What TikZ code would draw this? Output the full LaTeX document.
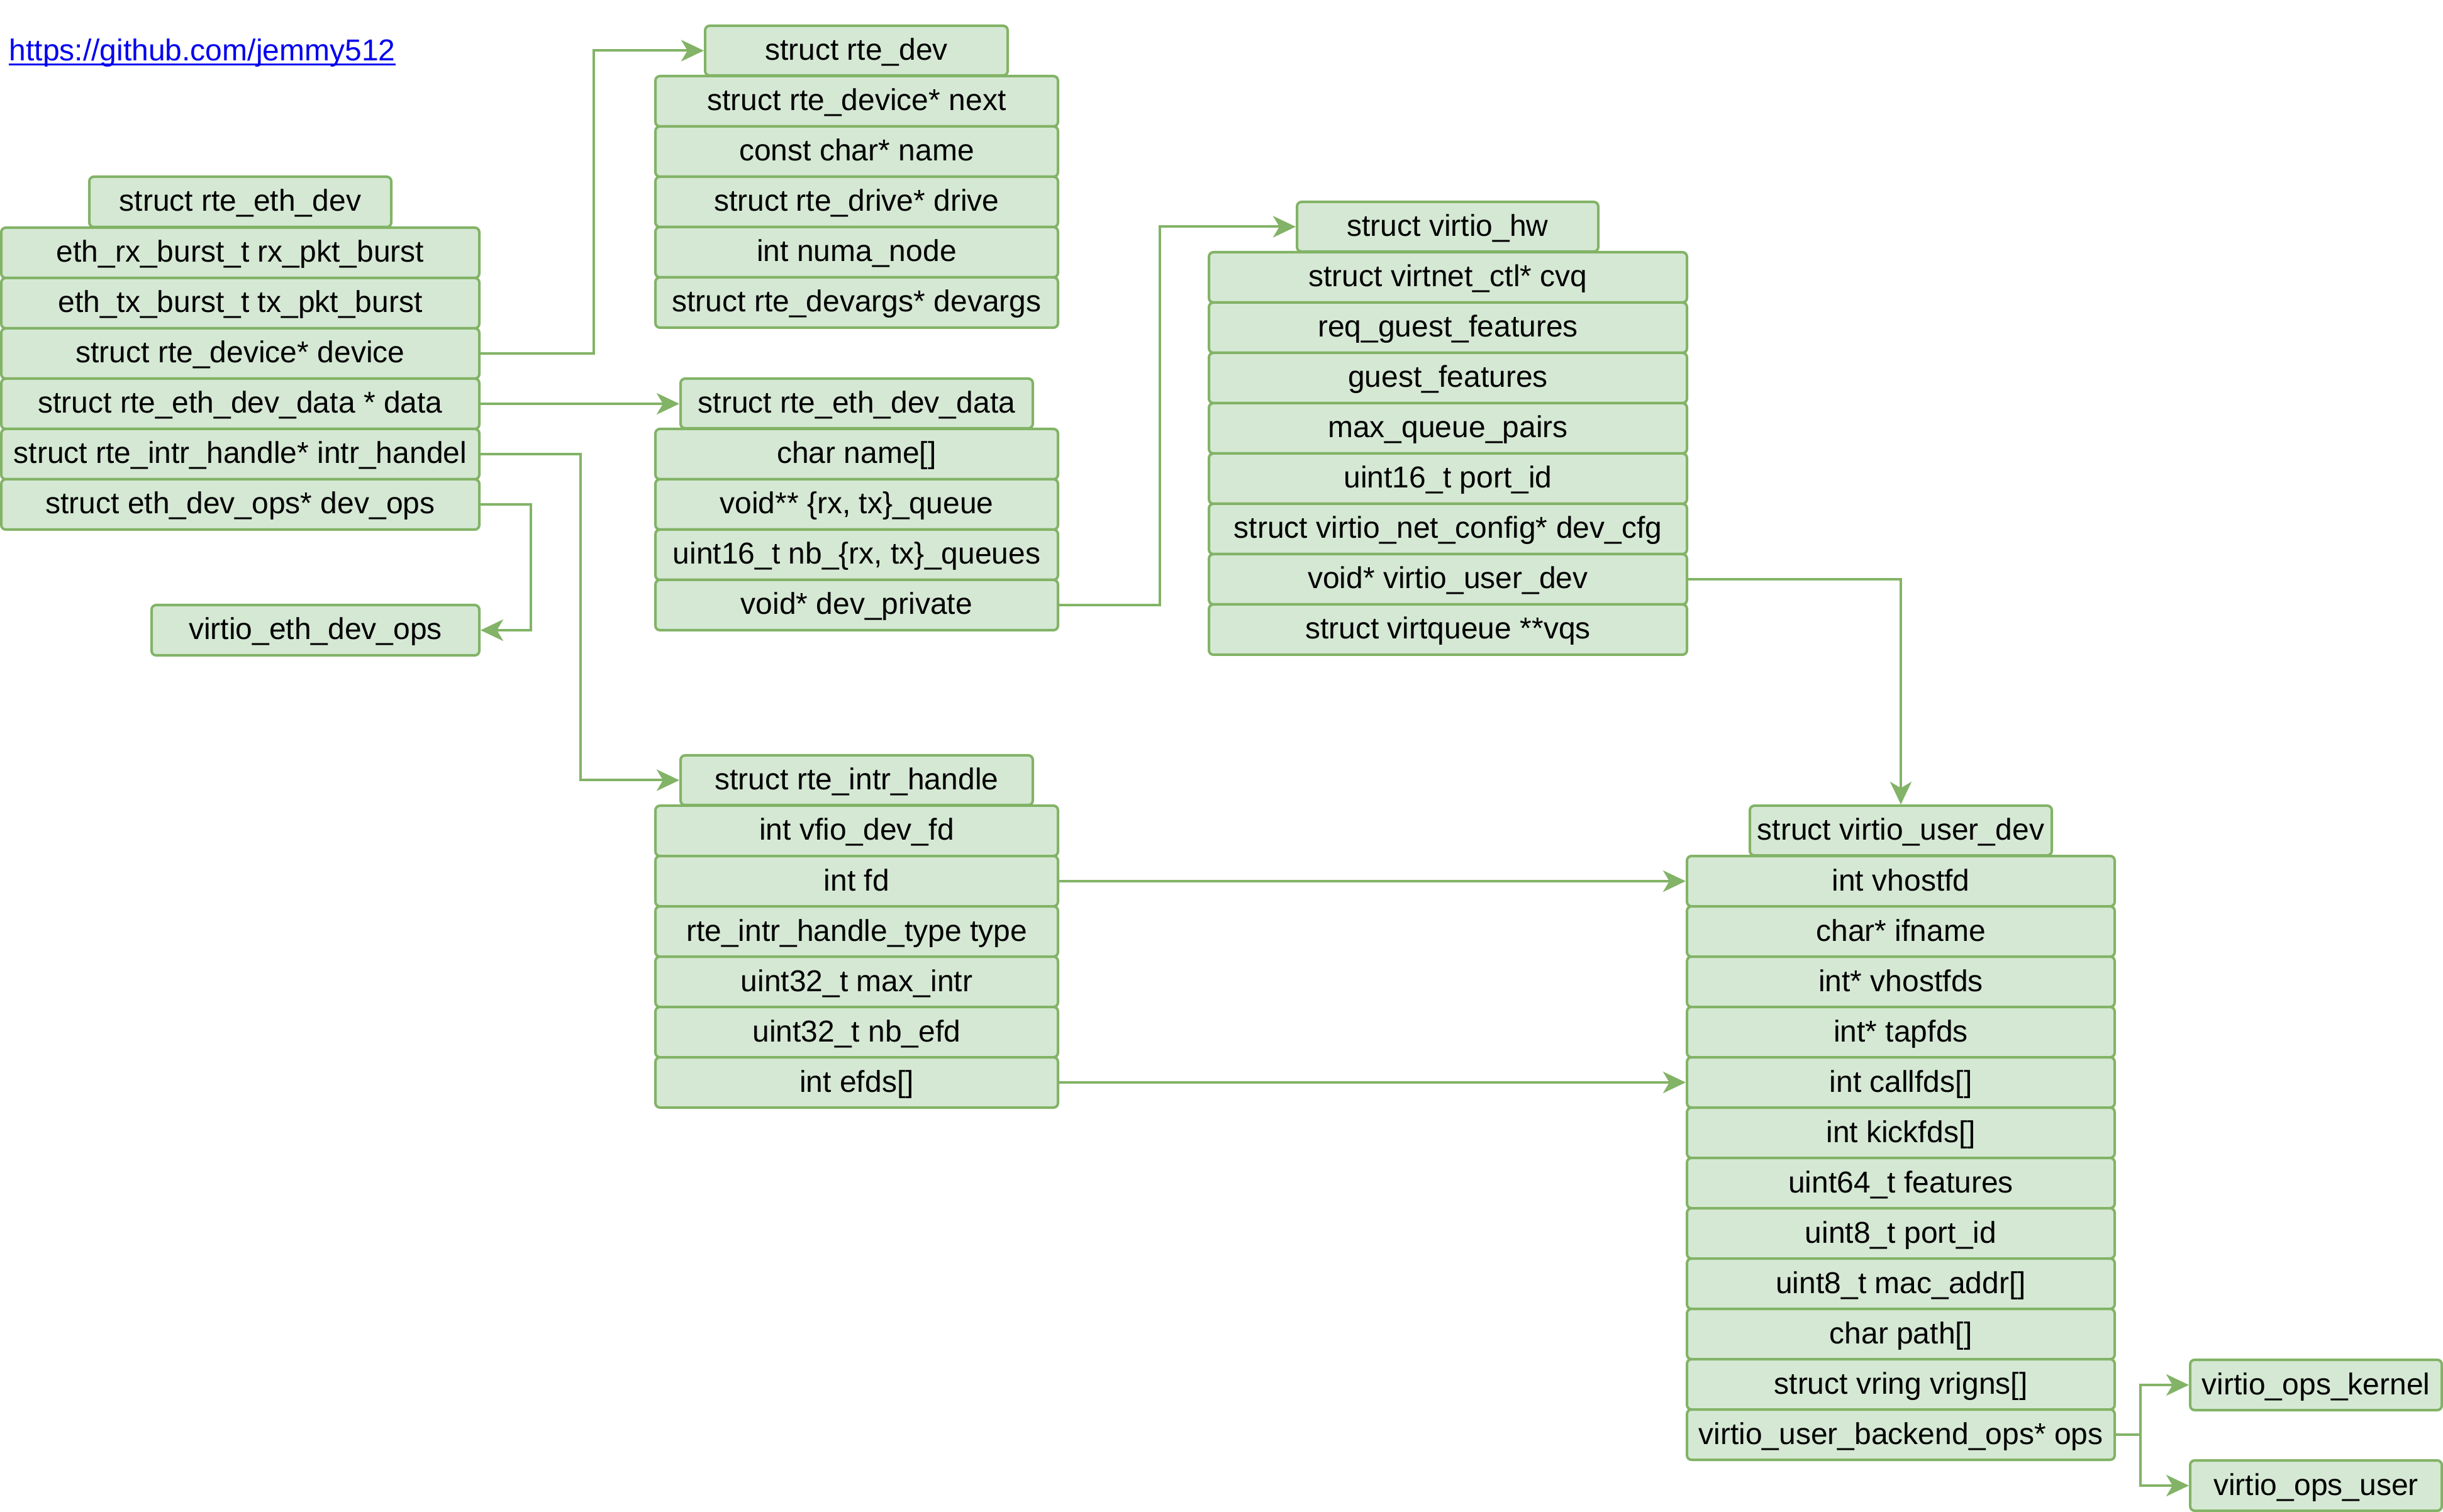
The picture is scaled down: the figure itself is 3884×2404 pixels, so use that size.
\documentclass[tikz,border=0pt]{standalone}
\usepackage{fontspec}
\setmainfont{Liberation Sans}
\usetikzlibrary{arrows.meta}
\definecolor{gfill}{HTML}{D5E8D4}
\definecolor{gline}{HTML}{82B366}
\definecolor{linkblue}{HTML}{0000EE}
\tikzset{
  fld/.style={draw=gline, fill=gfill, line width=1pt, rounded corners=1.8pt, inner sep=0pt,
    text height=9.5pt, text depth=2pt,
    font=\fontsize{12pt}{14pt}\selectfont, text=black},
  arr/.style={draw=gline, line width=1pt, -{Stealth[length=9pt,width=8.5pt,inset=2.5pt]}},
}
% name, x1, y1, x2, y2, text  (pixel units)
\newcommand\bx[6]{\node[fld, minimum width={(#4-(#2))*0.25pt}, minimum height={(#5-(#3))*0.25pt}] (#1) at ({(#2+#4)/2},{(#3+#5)/2}) {#6};}
% name, x1, x2, ytop, text
\newcommand\fr[5]{\bx{#1}{#2}{#4}{#3}{#4+80}{#5}}
\begin{document}
\begin{tikzpicture}[x=0.25pt,y=-0.25pt]
\useasboundingbox (0,0) rectangle (3884,2404);

% link
\node[anchor=base west, inner sep=0pt, text=linkblue, font=\fontsize{12pt}{14pt}\selectfont] (link) at (14,97) {https://github.com/jemmy512};
\draw[linkblue, line width=0.8pt] ([yshift=-1.3pt]link.base west) -- ([yshift=-1.3pt]link.base east);

% struct rte_eth_dev
\bx{a0}{142}{281}{622}{361}{struct rte\_eth\_dev}
\fr{a1}{2}{762}{362}{eth\_rx\_burst\_t rx\_pkt\_burst}
\fr{a2}{2}{762}{442}{eth\_tx\_burst\_t tx\_pkt\_burst}
\fr{a3}{2}{762}{522}{struct rte\_device* device}
\fr{a4}{2}{762}{602}{struct rte\_eth\_dev\_data * data}
\fr{a5}{2}{762}{682}{struct rte\_intr\_handle* intr\_handel}
\fr{a6}{2}{762}{762}{struct eth\_dev\_ops* dev\_ops}
\bx{ops}{241}{962}{762}{1042}{virtio\_eth\_dev\_ops}

% struct rte_dev
\bx{b0}{1121}{41}{1602}{120}{struct rte\_dev}
\fr{b1}{1042}{1682}{121}{struct rte\_device* next}
\fr{b2}{1042}{1682}{201}{const char* name}
\fr{b3}{1042}{1682}{281}{struct rte\_drive* drive}
\fr{b4}{1042}{1682}{361}{int numa\_node}
\fr{b5}{1042}{1682}{441}{struct rte\_devargs* devargs}

% struct rte_eth_dev_data
\bx{d0}{1082}{602}{1642}{681}{struct rte\_eth\_dev\_data}
\fr{d1}{1042}{1682}{682}{char name[]}
\fr{d2}{1042}{1682}{762}{void** \{rx, tx\}\_queue}
\fr{d3}{1042}{1682}{842}{uint16\_t nb\_\{rx, tx\}\_queues}
\fr{d4}{1042}{1682}{922}{void* dev\_private}

% struct rte_intr_handle
\bx{i0}{1082}{1201}{1642}{1280}{struct rte\_intr\_handle}
\fr{i1}{1042}{1682}{1281}{int vfio\_dev\_fd}
\fr{i2}{1042}{1682}{1361}{int fd}
\fr{i3}{1042}{1682}{1441}{rte\_intr\_handle\_type type}
\fr{i4}{1042}{1682}{1521}{uint32\_t max\_intr}
\fr{i5}{1042}{1682}{1601}{uint32\_t nb\_efd}
\fr{i6}{1042}{1682}{1681}{int efds[]}

% struct virtio_hw
\bx{h0}{2062}{321}{2541}{400}{struct virtio\_hw}
\fr{h1}{1922}{2682}{401}{struct virtnet\_ctl* cvq}
\fr{h2}{1922}{2682}{481}{req\_guest\_features}
\fr{h3}{1922}{2682}{561}{guest\_features}
\fr{h4}{1922}{2682}{641}{max\_queue\_pairs}
\fr{h5}{1922}{2682}{721}{uint16\_t port\_id}
\fr{h6}{1922}{2682}{801}{struct virtio\_net\_config* dev\_cfg}
\fr{h7}{1922}{2682}{881}{void* virtio\_user\_dev}
\fr{h8}{1922}{2682}{961}{struct virtqueue **vqs}

% struct virtio_user_dev
\bx{u0}{2782}{1281}{3262}{1360}{struct virtio\_user\_dev}
\fr{u1}{2682}{3362}{1361}{int vhostfd}
\fr{u2}{2682}{3362}{1441}{char* ifname}
\fr{u3}{2682}{3362}{1521}{int* vhostfds}
\fr{u4}{2682}{3362}{1601}{int* tapfds}
\fr{u5}{2682}{3362}{1681}{int callfds[]}
\fr{u6}{2682}{3362}{1761}{int kickfds[]}
\fr{u7}{2682}{3362}{1841}{uint64\_t features}
\fr{u8}{2682}{3362}{1921}{uint8\_t port\_id}
\fr{u9}{2682}{3362}{2001}{uint8\_t mac\_addr[]}
\fr{u10}{2682}{3362}{2081}{char path[]}
\fr{u11}{2682}{3362}{2161}{struct vring vrigns[]}
\fr{u12}{2682}{3362}{2241}{virtio\_user\_backend\_ops* ops}

\bx{kern}{3482}{2162}{3882}{2242}{virtio\_ops\_kernel}
\bx{user}{3482}{2322}{3882}{2402}{virtio\_ops\_user}

% connectors
\draw[arr] (a3.east) -- ++(180,0) |- (b0.west);
\draw[arr] (a4.east) -- (a4.east -| d0.west);
\draw[arr] (a5.east) -- ++(159,0) |- (i0.west);
\draw[arr] (a6.east) -- ++(80,0) |- (ops.east);
\draw[arr] (d4.east) -- ++(160,0) |- (h0.west);
\draw[arr] (h7.east) -| (u0.north);
\draw[arr] (i2.east) -- (u1.west);
\draw[arr] (i6.east) -- (u5.west);
\draw[arr] (u12.east) -- ++(39,0) |- (kern.west);
\draw[arr] (u12.east) -- ++(39,0) |- (user.west);
\end{tikzpicture}
\end{document}
